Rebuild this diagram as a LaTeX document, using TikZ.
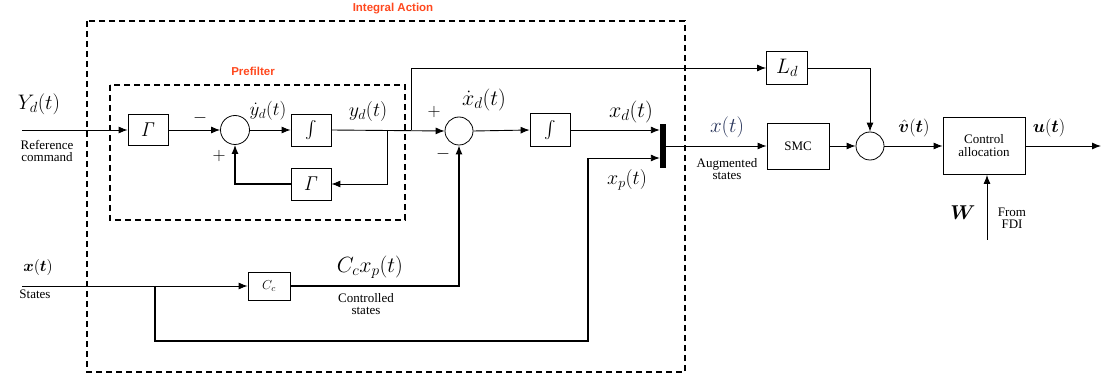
\RequirePackage{fix-cm}
\documentclass[tikz,border=0pt]{standalone}
\usepackage{amsmath,bm}
\usepackage[no-math]{fontspec}
\setmainfont{Liberation Serif}
\newfontfamily\arialfont{Liberation Sans}
\usetikzlibrary{arrows.meta,calc}
\definecolor{titlered}{RGB}{255,72,30}
\definecolor{slateblue}{RGB}{40,52,90}
\newcommand{\mathsz}[2]{\fontsize{#1}{#1}\selectfont$#2$}
\newcommand{\txt}{\fontsize{13}{15}\selectfont}
\begin{document}
\begin{tikzpicture}[x=1pt,y=-1pt,
  blk/.style={draw,line width=0.8pt,inner sep=0pt,fill=white},
  sumc/.style={circle,draw,line width=0.8pt,minimum size=29pt,inner sep=0pt},
  conn/.style={line width=0.9pt,-{Latex[length=9pt,width=7pt]}},
  thickwire/.style={line width=1.4pt},
  dbox/.style={dashed,line width=1.3pt,dash pattern=on 6pt off 4pt},
  ttl/.style={text=titlered,font=\arialfont\bfseries\fontsize{11.5}{13}\selectfont},
  lab/.style={inner sep=0pt}
]
\useasboundingbox (0,0) rectangle (1101,382);

% dashed frames
\draw[dbox] (87,21) rectangle (685,372);
\draw[dbox] (110,85) rectangle (405,220);
\node[ttl] (tIA) at (393,9) {Integral Action};
\node[ttl] (tPF) at (253,71) {Prefilter};

% blocks
\node[blk,minimum width=40pt,minimum height=31pt] (G1) at (148,130) {\mathsz{20}{\mathit{\Gamma}}};
\node[sumc] (S1) at (235,130) {};
\node[blk,minimum width=40pt,minimum height=32pt] (I1) at (311,130) {\mathsz{17}{\int}};
\node[blk,minimum width=40pt,minimum height=32pt] (G2) at (311,184) {\mathsz{20}{\mathit{\Gamma}}};
\node[sumc,minimum size=28pt] (S2) at (459,131) {};
\node[blk,minimum width=40pt,minimum height=33pt] (I2) at (550,130) {\mathsz{17}{\int}};
\node[fill=black,minimum width=6pt,minimum height=44pt,inner sep=0pt] (bar) at (663,146) {};
\node[blk,minimum width=41pt,minimum height=33pt] (Ld) at (787,68) {\mathsz{21}{L_d}};
\node[blk,minimum width=62pt,minimum height=46pt] (SMC) at (798,146) {\txt SMC};
\node[sumc,minimum size=28pt] (S3) at (870,146) {};
\node[blk,minimum width=82pt,minimum height=57pt,align=center] (CA) at (984,146) {\txt Control\\[1pt]\txt allocation};
\node[blk,minimum width=42pt,minimum height=28pt] (Cc) at (269,286) {\mathsz{13}{C_c}};

% free ends
\coordinate (inY) at (22,130);
\coordinate (inX) at (22,286);
\coordinate (outU) at (1101,146);
\coordinate (W0) at (987,240);
\coordinate (bY) at (387,130);
\coordinate (bL) at (411,130);
\coordinate (bX) at (155,286);
\coordinate (xpC) at (588,341);
\coordinate (xpT) at (588,158);

% connectors
\draw[conn] (inY) -- (G1.west);
\draw[conn] (G1.east) -- (S1.west);
\draw[conn] (S1.east) -- (I1.west);
\draw[conn] (I1.east) -- (S2.west);
\draw[conn] (bY) |- (G2.east);
\draw[conn,line width=1.3pt] (G2.west) -| (S1.south);
\draw[conn] (bL) |- (Ld.west);
\draw[conn] (Ld.east) -| (S3.north);
\draw[conn] (S2.east) -- (I2.west);
\draw[conn] (I2.east) -- (I2.east -| bar.west);
\draw[conn] (inX) -- (Cc.west);
\draw[conn,line width=1.3pt] (Cc.east) -| (S2.south);
\draw[thickwire] (bX) |- (xpC) -- (xpT);
\draw[conn] (xpT) -- (xpT -| bar.west);
\draw[conn] (bar.east) -- (SMC.west);
\draw[conn] (SMC.east) -- (S3.west);
\draw[conn] (S3.east) -- (CA.west);
\draw[conn] (CA.east) -- (outU);
\draw[conn] (W0) -- (W0 |- CA.south);

% labels
\node[lab] (lYd) at (39,104) {\mathsz{21}{Y_d(t)}};
\node[lab,align=center] (lRef) at (47,151) {\txt Reference\\\txt command};
\node[lab] (lm1) at (200,118) {\mathsz{18}{-}};
\node[lab] (lp1) at (219,156) {\mathsz{18}{+}};
\node[lab] (lyd) at (268,111) {\mathsz{19}{\dot{y}_d(t)}};
\node[lab] (lydt) at (368,112) {\mathsz{20}{y_d(t)}};
\node[lab] (lp2) at (434,112) {\mathsz{18}{+}};
\node[lab] (lm2) at (443,154) {\mathsz{18}{-}};
\node[lab] (lxdd) at (484,100) {\mathsz{22}{\dot{x}_d(t)}};
\node[lab] (lxd) at (631,112) {\mathsz{22}{x_d(t)}};
\node[lab] (lxp) at (627,180) {\mathsz{20}{x_p(t)}};
\node[lab,text=slateblue] (lx) at (727,127) {\mathsz{21}{x(t)}};
\node[lab,align=center] (lAug) at (727,169) {\txt Augmented\\\txt states};
\node[lab] (lv) at (914,128) {\mathsz{18}{\hat{\bm{v}}(\bm{t})}};
\node[lab] (lu) at (1049,128) {\mathsz{18}{\bm{u}(\bm{t})}};
\node[lab] (lW) at (963,213) {\mathsz{20}{\bm{W}}};
\node[lab,align=center] (lFDI) at (1012,218) {\txt From\\\txt FDI};
\node[lab] (lxs) at (38,268) {\mathsz{16}{\bm{x}(\bm{t})}};
\node[lab] (lSt) at (35,294) {\txt States};
\node[lab] (lCx) at (370,267) {\mathsz{22}{C_cx_p(t)}};
\node[lab,align=center] (lCs) at (366,304) {\txt Controlled\\\txt states};
\end{tikzpicture}
\end{document}
